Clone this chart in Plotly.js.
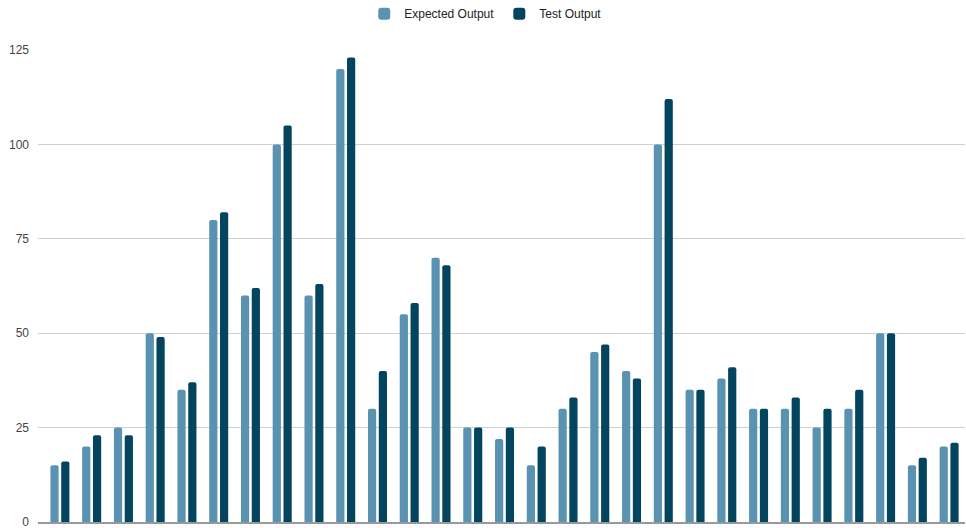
<!DOCTYPE html>
<html>
<head>
<meta charset="utf-8">
<script src="https://cdn.plot.ly/plotly-3.0.1.min.js"></script>
<style>html,body{margin:0;padding:0;background:#fff;}#chart{width:966px;height:528px;}</style>
</head>
<body>
<div id="chart"></div>
<script>
const categories = ["1","2","3","4","5","6","7","8","9","10","11","12","13","14","15","16","17","18","19","20","21","22","23","24","25","26","27","28","29"];
const expectedOutput = [15,20,25,50,35,80,60,100,60,120,30,55,70,25,22,15,30,45,40,100,35,38,30,30,25,30,50,15,20];
const testOutput = [16,23,23,49,37,82,62,105,63,123,40,58,68,25,25,20,33,47,38,112,35,41,30,33,30,35,50,17,21];
const yTicks = [0,25,50,75,100,125];

const traces = [
  {type:'bar', name:'Expected Output', x:categories, y:expectedOutput,
   marker:{color:'#5a93b1', cornerradius:2}, hoverinfo:'y'},
  {type:'bar', name:'Test Output', x:categories, y:testOutput,
   marker:{color:'#03445f', cornerradius:2}, hoverinfo:'y'}
];
const layout = {
  width:966, height:528,
  margin:{l:38, r:1, t:50, b:6, autoexpand:false},
  paper_bgcolor:'#fff', plot_bgcolor:'#fff',
  font:{family:'"Liberation Sans", Arial, sans-serif', size:12, color:'#222'},
  barmode:'group', bargap:0.32, bargroupgap:0.24,
  showlegend:true,
  legend:{orientation:'h', x:0.483, xanchor:'center', y:1.077, yanchor:'middle',
          font:{size:12, color:'#222'}, itemwidth:30, traceorder:'normal'},
  xaxis:{type:'category', range:[-0.69,28.5], showticklabels:false, showgrid:false,
         zeroline:false, showline:true, linecolor:'#999', linewidth:1.5, ticks:''},
  yaxis:{range:[0,125], tickvals:yTicks, ticktext:yTicks.map(String),
         showgrid:true, gridcolor:'#d0d0d0', gridwidth:1, zeroline:false,
         ticks:'', ticklabelstandoff:8, ticklabeloverflow:'allow',
         tickfont:{size:12, color:'#444'}}
};
Plotly.newPlot('chart', traces, layout, {displayModeBar:false, staticPlot:true});
</script>
</body>
</html>
